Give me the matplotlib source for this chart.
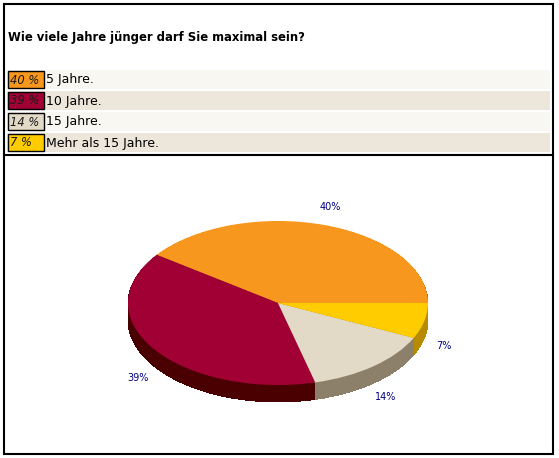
import numpy as np
import matplotlib.pyplot as plt
from matplotlib.patches import Rectangle

# poll data
question = "Wie viele Jahre jünger darf Sie maximal sein?"
categories = ["5 Jahre.", "10 Jahre.", "15 Jahre.", "Mehr als 15 Jahre."]
percents = [40, 39, 14, 7]
top_colors = ["#F7971E", "#A10035", "#E2D9C6", "#FFCC00"]
side_colors = ["#A8620E", "#4A0000", "#8C806B", "#B88A00"]
row_colors = ["#F9F7F2", "#EDE6DB"]

W, H = 559, 458
fig = plt.figure(figsize=(W / 100, H / 100), dpi=100)
fig.patch.set_facecolor("white")

# background axes in pixel coordinates
bg = fig.add_axes([0, 0, 1, 1])
bg.set_xlim(0, W)
bg.set_ylim(H, 0)
bg.axis("off")

# frame
bg.add_patch(Rectangle((3.5, 3.5), 549, 450, fill=False, ec="black", lw=1.5))
bg.plot([3.5, 552.5], [154.5, 154.5], color="black", lw=1.5)

bg.text(8, 38, question, fontsize=8.4, fontweight="bold", va="center",
        ha="left", color="#000000")

# legend rows
row_top = 70
row_h = 21
for i, (cat, pct) in enumerate(zip(categories, percents)):
    y0 = row_top + i * row_h
    bg.add_patch(Rectangle((7, y0), 543, row_h - 2, fc=row_colors[i % 2], ec="none"))
    bg.add_patch(Rectangle((7.5, y0 + 1), 36, row_h - 4, fc=top_colors[i],
                           ec="black", lw=1))
    bg.text(10.5, y0 + row_h / 2 - 0.5, f"{pct} %", fontsize=8.3, style="italic",
            ha="left", va="center", color="#1a1a1a")
    bg.text(46, y0 + row_h / 2 - 0.5, cat, fontsize=9.0, ha="left", va="center",
            color="#000000")

# pie axes: ellipse centre (278, 303), rx 150, ry 82, depth 17 px
cx, cy, rx, ry, depth = 278, 303, 150, 82, 17
d = depth / ry
left = (cx - rx) / W
bottom = (H - (cy + ry + depth)) / H
ax = fig.add_axes([left, bottom, 2 * rx / W, (2 * ry + depth) / H])

n_layers = 18
for k in range(n_layers):
    off = -d + d * k / n_layers
    ax.pie(percents, colors=side_colors, startangle=0, counterclock=True,
           center=(0, off), wedgeprops=dict(linewidth=0, antialiased=False))
ax.pie(percents, colors=top_colors, startangle=0, counterclock=True,
       center=(0, 0), wedgeprops=dict(linewidth=0))
ax.set_aspect("auto")
ax.set_xlim(-1, 1)
ax.set_ylim(-1 - d, 1)
ax.axis("off")

# percentage labels
cum = np.cumsum([0] + percents[:-1])
for p, c in zip(percents, cum):
    ang = np.deg2rad((c + p / 2) * 3.6)
    x = 1.13 * np.cos(ang)
    y = 1.13 * np.sin(ang)
    y += 0.1 if y > 0 else -0.28
    ax.text(x, y, f"{p}%", fontsize=7.0, color="#000080", ha="center",
            va="center", clip_on=False)

fig.savefig("out.png", dpi=100)
